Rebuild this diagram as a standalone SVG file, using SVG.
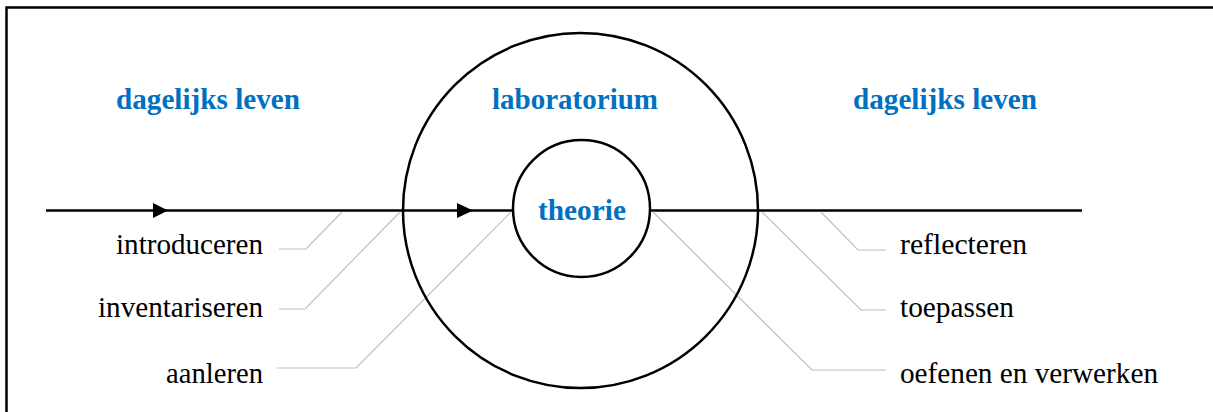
<svg xmlns="http://www.w3.org/2000/svg" width="1213" height="412" viewBox="0 0 1213 412">
<style>
.frame{stroke:#000;stroke-width:2.5;fill:none}
.main{stroke:#000;stroke-width:2.5;fill:none}
.circ{stroke:#000;stroke-width:2.5;fill:none}
.lead{stroke:#BFBFBF;stroke-width:1.2;fill:none}
.head{font-weight:bold;font-size:29px;fill:#0070C0}
.lbl{font-size:29px;fill:#000}
.arrow{fill:#000}
</style>
<rect width="1213" height="412" fill="#fff"/>
<path class="frame" d="M6.5,412 V7.5 H1213"/>
<g id="connectors">
<line class="main" x1="46" y1="210.5" x2="513" y2="210.5"/>
<line class="main" x1="650" y1="210.5" x2="1082" y2="210.5"/>
<polygon class="arrow" points="153,203 168,210.5 153,218"/>
<polygon class="arrow" points="457,203 473,210.5 457,218"/>
<polyline class="lead" points="279,249 306,249 342,212"/>
<polyline class="lead" points="279,309 305,309 400,212"/>
<polyline class="lead" points="277,368 356,368 511,212"/>
<polyline class="lead" points="886,250 858,250 821,212"/>
<polyline class="lead" points="886,310 861,310 762,212"/>
<polyline class="lead" points="886,370 812,370 653,212"/>
</g>
<g font-family="Liberation Serif, Tinos, Times New Roman, DejaVu Serif, serif">
<g id="laboratorium">
<circle class="circ" cx="580.5" cy="210.5" r="177.5"/>
<text class="head" x="492" y="109" textLength="166" lengthAdjust="spacingAndGlyphs">laboratorium</text>
</g>
<g id="theorie">
<circle class="circ" cx="581.5" cy="208.5" r="68.5"/>
<text class="head" x="538" y="220" textLength="88" lengthAdjust="spacingAndGlyphs">theorie</text>
</g>
<g id="dagelijks-leven-links">
<text class="head" x="116" y="109" textLength="184" lengthAdjust="spacingAndGlyphs">dagelijks leven</text>
</g>
<g id="dagelijks-leven-rechts">
<text class="head" x="853" y="109" textLength="184" lengthAdjust="spacingAndGlyphs">dagelijks leven</text>
</g>
<g id="introduceren"><text class="lbl" x="116" y="254" textLength="147" lengthAdjust="spacingAndGlyphs">introduceren</text></g>
<g id="inventariseren"><text class="lbl" x="98" y="317" textLength="165" lengthAdjust="spacingAndGlyphs">inventariseren</text></g>
<g id="aanleren"><text class="lbl" x="166" y="383" textLength="97" lengthAdjust="spacingAndGlyphs">aanleren</text></g>
<g id="reflecteren"><text class="lbl" x="900" y="254" textLength="127" lengthAdjust="spacingAndGlyphs">reflecteren</text></g>
<g id="toepassen"><text class="lbl" x="900" y="317" textLength="114" lengthAdjust="spacingAndGlyphs">toepassen</text></g>
<g id="oefenen"><text class="lbl" x="900" y="383" textLength="258" lengthAdjust="spacingAndGlyphs">oefenen en verwerken</text></g>
</g>
</svg>
